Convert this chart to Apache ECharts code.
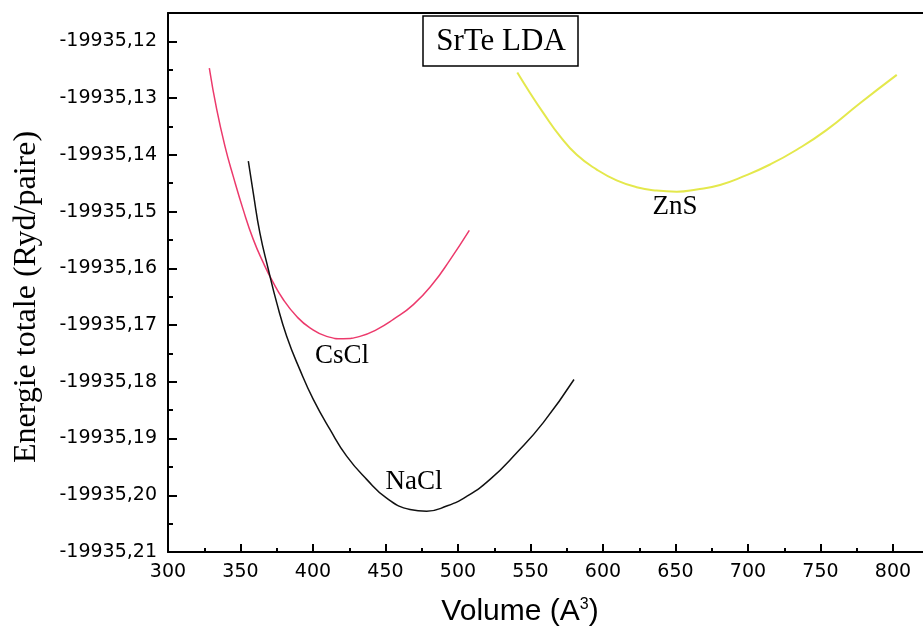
<!DOCTYPE html>
<html>
<head>
<meta charset="utf-8">
<script src="https://cdn.jsdelivr.net/npm/echarts@6/dist/echarts.min.js"></script>
<style>html,body{margin:0;padding:0;background:#fff}#c{width:923px;height:634px}</style>
</head>
<body>
<div id="c"></div>
<script>
// Volume (A^3) and total energy (Ryd/paire)
const cscl_V = [328.5, 333.6, 339.3, 345.0, 351.9, 358.8, 365.7, 371.5, 379.5, 388.8, 397.9, 409.4, 420.9, 432.4, 443.9, 455.4, 469.2, 483.0, 494.5, 507.8];
const cscl_E = [-19935.1247, -19935.1320, -19935.1385, -19935.1438, -19935.1497, -19935.1549, -19935.1590, -19935.1620, -19935.1655, -19935.1685, -19935.1705, -19935.1720, -19935.1724, -19935.1720, -19935.1708, -19935.1690, -19935.1664, -19935.1626, -19935.1585, -19935.1533];

const nacl_V = [355.4, 358.8, 363.4, 369.2, 375.0, 381.9, 391.0, 400.2, 411.7, 423.2, 437.0, 450.8, 466.9, 478.4, 492.2, 506.0, 522.1, 540.5, 558.8, 580.0];
const nacl_E = [-19935.1411, -19935.1467, -19935.1538, -19935.1602, -19935.1661, -19935.1720, -19935.1779, -19935.1831, -19935.1884, -19935.1931, -19935.1972, -19935.2005, -19935.2025, -19935.2028, -19935.2019, -19935.2002, -19935.1972, -19935.1925, -19935.1872, -19935.1796];

const zns_V = [540.9, 549.7, 558.8, 570.3, 581.9, 595.7, 609.4, 623.2, 637.0, 650.8, 664.6, 680.7, 696.8, 715.2, 733.6, 754.3, 777.2, 802.6];
const zns_E = [-19935.1255, -19935.1291, -19935.1326, -19935.1367, -19935.1400, -19935.1426, -19935.1445, -19935.1457, -19935.1463, -19935.1465, -19935.1461, -19935.1453, -19935.1438, -19935.1417, -19935.1391, -19935.1356, -19935.1309, -19935.1259];

const phaseNames = ['CsCl', 'NaCl', 'ZnS'];
const labelPos = [[420, -19935.1754], [469.7, -19935.1977], [649.7, -19935.1491]];
const titleText = 'SrTe LDA';
const yName = 'Energie totale (Ryd/paire)';

const xMin = 300, xMax = 850, xInterval = 50;
const yMin = -19935.21, yMax = -19935.115, yInterval = 0.01;

function pairs(a, b) { return a.map((v, i) => [v, b[i]]); }

const chart = echarts.init(document.getElementById('c'), null, { renderer: 'canvas' });
const axisLineStyle = { color: '#000', width: 2 };
const mkLabel = (i) => ({
  symbol: 'circle', symbolSize: 0,
  label: { show: true, position: 'inside', formatter: phaseNames[i], color: '#000',
           fontFamily: 'Liberation Serif', fontSize: 27 },
  data: [{ coord: labelPos[i] }]
});
const lineCommon = { type: 'line', smooth: 0.5, showSymbol: false };

chart.setOption({
  animation: false,
  backgroundColor: '#fff',
  grid: { left: 168, top: 13, width: 797.5, height: 539, containLabel: false, outerBoundsMode: 'none' },
  xAxis: [{
    type: 'value', min: xMin, max: xMax, interval: xInterval,
    axisLine: { show: true, lineStyle: axisLineStyle },
    axisTick: { show: true, inside: true, length: 8, lineStyle: { color: '#000', width: 2 } },
    minorTick: { show: true, splitNumber: 2, length: 4, lineStyle: { color: '#000', width: 2 } },
    axisLabel: { color: '#000', fontFamily: 'DejaVu Sans', fontSize: 19, margin: 11 },
    splitLine: { show: false }
  }, {
    type: 'value', position: 'top', min: xMin, max: xMax,
    axisLine: { show: true, lineStyle: axisLineStyle },
    axisTick: { show: false }, axisLabel: { show: false }, splitLine: { show: false }
  }],
  yAxis: {
    type: 'value', min: yMin, max: yMax, interval: yInterval,
    axisLine: { show: true, lineStyle: axisLineStyle },
    axisTick: { show: true, inside: true, length: 9, lineStyle: { color: '#000', width: 2 } },
    minorTick: { show: true, splitNumber: 2, length: 5, lineStyle: { color: '#000', width: 2 } },
    axisLabel: { color: '#000', fontFamily: 'DejaVu Sans', fontSize: 19, margin: 11,
                 showMaxLabel: false,
                 formatter: v => v.toFixed(2).replace('.', ',') },
    splitLine: { show: false }
  },
  series: [
    Object.assign({ name: 'CsCl', data: pairs(cscl_V, cscl_E),
      lineStyle: { color: '#ec3a6c', width: 1.5 }, markPoint: mkLabel(0) }, lineCommon),
    Object.assign({ name: 'NaCl', data: pairs(nacl_V, nacl_E),
      lineStyle: { color: '#111', width: 1.5 }, markPoint: mkLabel(1) }, lineCommon),
    Object.assign({ name: 'ZnS', data: pairs(zns_V, zns_E),
      lineStyle: { color: '#e4e84c', width: 2 }, markPoint: mkLabel(2) }, lineCommon)
  ],
  graphic: [
    { type: 'rect', shape: { x: 423, y: 16, width: 155, height: 50 },
      style: { fill: '#fff', stroke: '#000', lineWidth: 1.5 }, z: 10 },
    { type: 'text', x: 501, y: 42, z: 11,
      style: { text: titleText, fill: '#000', font: '31px "Liberation Serif"', align: 'center', verticalAlign: 'middle' } },
    { type: 'text', x: 27, y: 297, rotation: Math.PI / 2, z: 11,
      style: { text: yName, fill: '#000', font: '32px "Liberation Serif"', align: 'center', verticalAlign: 'middle' } },
    { type: 'text', x: 520, y: 612, z: 11,
      style: { rich: { n: { fontFamily: 'Liberation Sans', fontSize: 30, color: '#000' },
                       s: { fontFamily: 'Liberation Sans', fontSize: 16, color: '#000', verticalAlign: 'top', padding: [0, 0, 14, 0] } },
               text: '{n|Volume (A}{s|3}{n|)}', align: 'center', verticalAlign: 'middle' } }
  ]
});
</script>
</body>
</html>
